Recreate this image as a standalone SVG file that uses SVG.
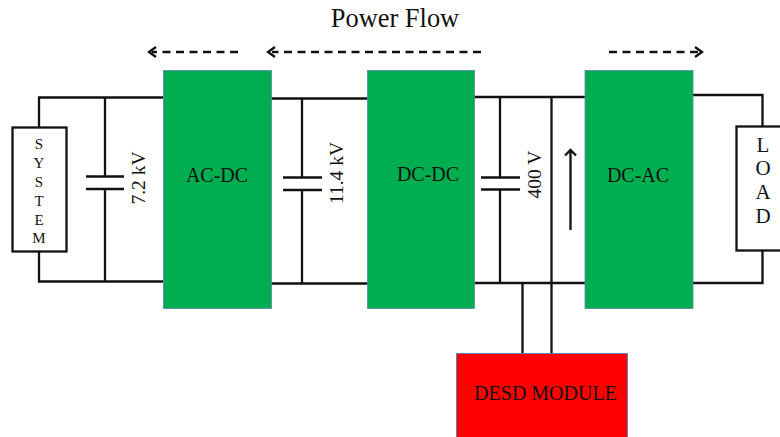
<svg xmlns="http://www.w3.org/2000/svg" width="780" height="437" viewBox="0 0 780 437">
<style>
text{font-family:"Liberation Serif","Times New Roman",serif;fill:#111}
.w{fill:none;stroke:#111;stroke-width:2.300}
.b{fill:#00ae50;stroke:#5b85b5;stroke-width:.8}
.box{fill:#fff;stroke:#111;stroke-width:2.300}
.d{fill:none;stroke:#111;stroke-width:2.500;stroke-dasharray:8 5.500}
.h{fill:none;stroke:#111;stroke-width:2.300}
.l{font-size:20px;text-anchor:middle}
.v{font-size:19.500px;text-anchor:middle}
.s{font-size:15px;text-anchor:middle}
.ld{font-size:21px;text-anchor:middle}
</style>
<g id="connectors">
<path class="w" d="M39 127V97.500H163M105 97.500V176M105 189V282M39 251V281.500H163"/>
<path class="w" d="M86 176.500H124M86 189H124"/>
<path class="w" d="M271 98.500H368M302 98.500V177M302 190V283.500M271 283.500H368"/>
<path class="w" d="M283 177.500H322M283 190H322"/>
<path class="w" d="M474 97H585M500 97V177M500 190V283M474 283H585M551.500 97V353M522.500 283V353"/>
<path class="w" d="M481 177.500H520M481 189.500H520"/>
<path class="w" d="M693 95H762.500V126M762.500 250V283H693"/>
<path class="w" d="M570.500 230V150M565 155.500L570.500 150L576 155.500"/>
<path class="d" d="M238 52H152"/><path class="h" d="M156 47L149 52L156 57"/>
<path class="d" d="M481 52H272"/><path class="h" d="M275 47L268 52L275 57"/>
<path class="d" d="M609 52H698"/><path class="h" d="M695 47L702 52L695 57"/>
</g>
<g id="title"><text x="395" y="27" font-size="26.400" text-anchor="middle">Power Flow</text></g>
<g id="system"><rect class="box" x="12.500" y="127.500" width="54" height="124"/>
<text class="s" x="39" y="149">S</text><text class="s" x="39" y="168">Y</text><text class="s" x="39" y="187">S</text><text class="s" x="39" y="206">T</text><text class="s" x="39" y="225">E</text><text class="s" x="39" y="243">M</text></g>
<g id="c1"><text class="v" transform="translate(145 178) rotate(-90)">7.2 kV</text></g>
<g id="ac-dc"><rect class="b" x="163.500" y="70.500" width="108" height="238"/><text class="l" x="217" y="182">AC-DC</text></g>
<g id="c2"><text class="v" transform="translate(343 173) rotate(-90)">11.4 kV</text></g>
<g id="dc-dc"><rect class="b" x="367.500" y="70.500" width="107" height="238"/><text class="l" x="428" y="181">DC-DC</text></g>
<g id="c3"><text class="v" transform="translate(541 174.500) rotate(-90)">400 V</text></g>
<g id="dc-ac"><rect class="b" x="585" y="70.500" width="108" height="238"/><text class="l" x="638" y="182">DC-AC</text></g>
<g id="load"><rect class="box" x="736.500" y="126.500" width="50" height="124"/>
<text class="ld" x="763" y="152">L</text><text class="ld" x="763" y="175">O</text><text class="ld" x="763" y="199">A</text><text class="ld" x="763" y="223">D</text></g>
<g id="desd"><rect x="456.500" y="353.500" width="171" height="90" fill="#fe0000" stroke="#5b85b5"/><text class="l" x="545.500" y="399.500">DESD MODULE</text></g>
</svg>
